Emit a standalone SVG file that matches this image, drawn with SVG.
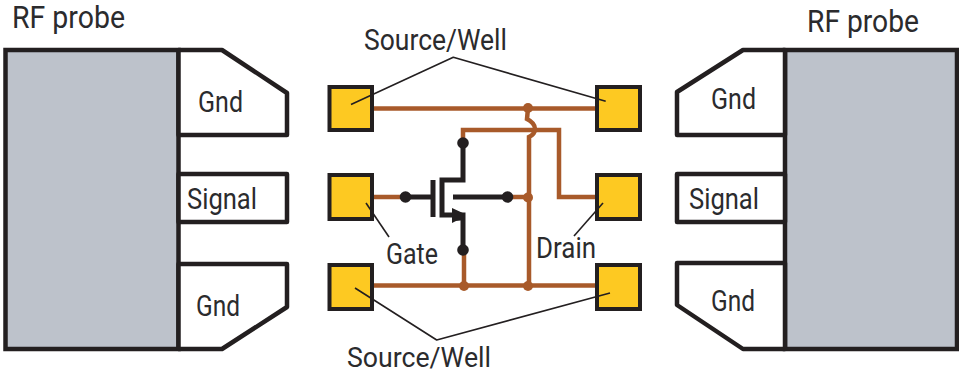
<svg xmlns="http://www.w3.org/2000/svg" width="959" height="373" viewBox="0 0 959 373">
<style>
text{font-family:"Roboto","Liberation Sans",sans-serif;fill:#2b2b2d;font-size:29px}
.big{font-size:31px}
.p{fill:#fff;stroke:#231f20;stroke-width:4.500;stroke-linejoin:round}
.g{fill:#bdc2cb;stroke:#231f20;stroke-width:4.500}
.pad{fill:#fdc922;stroke:#231f20;stroke-width:4}
.w{fill:none;stroke:#a85a2a;stroke-width:4.500}
.b{fill:none;stroke:#231f20;stroke-width:5}
.l{fill:none;stroke:#231f20;stroke-width:1.600;stroke-linejoin:round}
.dw{fill:#a85a2a}
.db{fill:#231f20}
</style>
<g id="probe-left">
<rect class="g" x="5.500" y="50" width="173" height="299"/>
<path class="p" d="M178.500 50H222L287 93V135H178.500Z"/>
<path class="p" d="M178.500 174H287V222H178.500Z"/>
<path class="p" d="M178.500 264H287V307L222 349H178.500Z"/>
<text class="big" x="12" y="28" textLength="113" lengthAdjust="spacingAndGlyphs">RF probe</text>
<text x="198" y="112" textLength="45" lengthAdjust="spacingAndGlyphs">Gnd</text>
<text x="187" y="209" textLength="70" lengthAdjust="spacingAndGlyphs">Signal</text>
<text x="196" y="316" textLength="44" lengthAdjust="spacingAndGlyphs">Gnd</text>
</g>
<g id="probe-right">
<rect class="g" x="785" y="50" width="172" height="299"/>
<path class="p" d="M785 50H743L677 92V135H785Z"/>
<path class="p" d="M785 174H677V222H785Z"/>
<path class="p" d="M785 263H677V305L743 349H785Z"/>
<text class="big" x="807" y="32" textLength="112" lengthAdjust="spacingAndGlyphs">RF probe</text>
<text x="711" y="109" textLength="45" lengthAdjust="spacingAndGlyphs">Gnd</text>
<text x="689" y="209" textLength="70" lengthAdjust="spacingAndGlyphs">Signal</text>
<text x="711" y="311" textLength="44" lengthAdjust="spacingAndGlyphs">Gnd</text>
</g>
<g id="connectors">
<path class="w" d="M372 108.500H597"/>
<path class="w" d="M372 197H405"/>
<path class="w" d="M372 285.500H597"/>
<path class="w" d="M463 143V130H559V197H597"/>
<path class="w" d="M528 108L527 119Q535 123 535 129Q535 134 529 137V285.500"/>
<path class="w" d="M507 197H528"/>
<path class="w" d="M464 250V285.500"/>
<circle class="dw" cx="528" cy="108" r="5"/>
<circle class="dw" cx="528" cy="197.500" r="5"/>
<circle class="dw" cx="528" cy="286" r="5"/>
<circle class="dw" cx="464" cy="286" r="5"/>
</g>
<g id="pads">
<rect class="pad" x="329.500" y="87" width="42.500" height="43"/>
<rect class="pad" x="329.500" y="175" width="42.500" height="44"/>
<rect class="pad" x="329.500" y="265" width="42.500" height="44"/>
<rect class="pad" x="597" y="87" width="43" height="43"/>
<rect class="pad" x="597" y="175" width="43" height="44"/>
<rect class="pad" x="597" y="265" width="43" height="44"/>
</g>
<g id="transistor">
<path class="b" d="M405 197H431"/>
<path class="b" d="M433 180V217"/>
<path class="b" d="M463 143V180H442V215H463V250"/>
<path class="b" d="M453 197H507"/>
<path class="db" d="M452 208L465 214V220L456 221L452 223Z"/>
<circle class="db" cx="463" cy="143" r="5.800"/>
<circle class="db" cx="405.500" cy="197" r="5.800"/>
<circle class="db" cx="507.500" cy="197" r="5.800"/>
<circle class="db" cx="463" cy="250" r="5.800"/>
</g>
<g id="labels">
<path class="l" d="M351 104.500L453.300 57.300L605.700 101.300"/>
<path class="l" d="M355 288L436.700 340L610 293"/>
<path class="l" d="M366 203L389 237"/>
<path class="l" d="M603 203L574 236"/>
<text x="364" y="50" textLength="143" lengthAdjust="spacingAndGlyphs">Source/Well</text>
<text x="347" y="367" textLength="144" lengthAdjust="spacingAndGlyphs" style="font-size:27px">Source/Well</text>
<text x="386" y="264" textLength="52" lengthAdjust="spacingAndGlyphs">Gate</text>
<text x="536" y="258" textLength="60" lengthAdjust="spacingAndGlyphs">Drain</text>
</g>
</svg>
